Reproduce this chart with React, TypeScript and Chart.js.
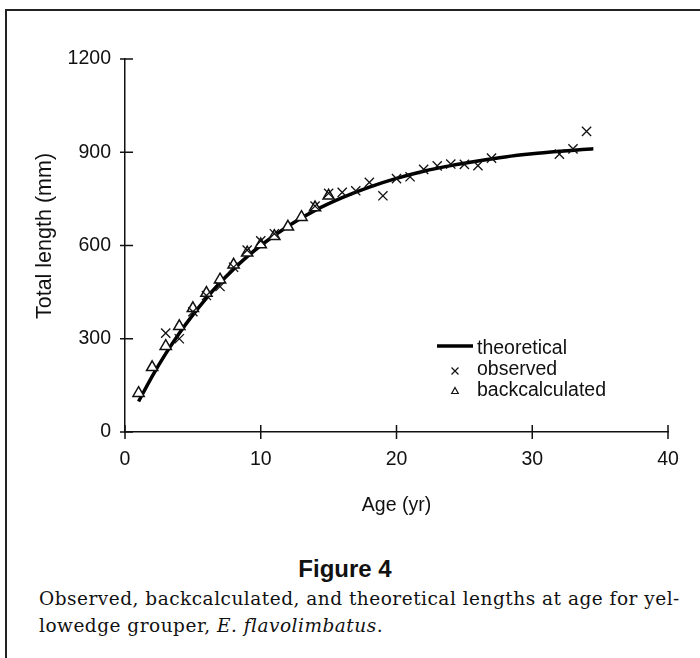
import React, { useEffect, useRef } from 'react';
import { Chart, registerables } from 'chart.js';

Chart.register(...registerables);

// ---- data ----
const observedAges = [3, 4, 5, 6, 7, 8, 9, 10, 11, 14, 15, 16, 17, 18, 19, 20, 21, 22, 23, 24, 25, 26, 27, 32, 33, 34];
const observedLengths = [318, 300, 387, 439, 468, 530, 585, 615, 638, 727, 768, 771, 776, 803, 760, 815, 821, 845, 856, 862, 861, 857, 881, 894, 911, 967];

const backAges = [1, 2, 3, 4, 5, 6, 7, 8, 9, 10, 11, 12, 13, 14, 15];
const backLengths = [125, 208, 276, 340, 398, 447, 490, 538, 577, 603, 630, 660, 691, 722, 760];

const theoAges = [1, 2, 3, 4, 5, 6, 7, 8, 9, 10, 12, 14, 16, 18, 20, 22, 24, 26, 28, 30, 32, 34, 34.5];
const theoLengths = [98, 179, 252, 318, 377, 431, 480, 524, 564, 600, 662, 713, 754, 788, 816, 839, 857, 872, 885, 895, 903, 910, 911];

const xTicks = [0, 10, 20, 30, 40];
const yTicks = [0, 300, 600, 900, 1200];

const xTitle = 'Age (yr)';
const yTitle = 'Total length (mm)';
const figureTitle = 'Figure 4';

const FONT = 'Arial, "Liberation Sans", Helvetica, sans-serif';
const INK = '#111';

const crossTicks = {
  id: 'crossTicks',
  afterDraw(chart: any) {
    const { ctx, chartArea, scales } = chart;
    ctx.save();
    ctx.strokeStyle = INK;
    ctx.lineWidth = 1.5;
    ctx.beginPath();
    for (const t of scales.x.ticks) {
      const px = scales.x.getPixelForValue(t.value);
      ctx.moveTo(px, chartArea.bottom - 7);
      ctx.lineTo(px, chartArea.bottom + 7);
    }
    for (const t of scales.y.ticks) {
      const py = scales.y.getPixelForValue(t.value);
      ctx.moveTo(chartArea.left - 5, py);
      ctx.lineTo(chartArea.left + 8, py);
    }
    ctx.stroke();
    ctx.restore();
  },
};

const yTitlePlugin = {
  id: 'yTitlePlugin',
  afterDraw(chart: any) {
    const { ctx } = chart;
    ctx.save();
    ctx.translate(45, 236);
    ctx.rotate(-Math.PI / 2);
    ctx.font = `21.5px ${FONT}`;
    ctx.fillStyle = INK;
    ctx.textAlign = 'center';
    ctx.textBaseline = 'middle';
    ctx.fillText(yTitle, 0, 0);
    ctx.restore();
  },
};

const legendPlugin = {
  id: 'legendPlugin',
  afterDraw(chart: any) {
    const { ctx } = chart;
    const ds = chart.data.datasets;
    const lx = 455;
    const tx = 477;
    ctx.save();
    ctx.font = `19.5px ${FONT}`;
    ctx.fillStyle = INK;
    ctx.textAlign = 'left';
    ctx.textBaseline = 'middle';
    // theoretical line
    const theo = ds[2];
    ctx.strokeStyle = theo.borderColor;
    ctx.lineWidth = 3.5;
    ctx.beginPath();
    ctx.moveTo(437, 346);
    ctx.lineTo(473, 346);
    ctx.stroke();
    ctx.fillText(theo.label, tx, 349);
    // observed cross
    ctx.strokeStyle = INK;
    ctx.lineWidth = 1.2;
    const cy = 371;
    const r = 3.5;
    ctx.beginPath();
    ctx.moveTo(lx - r, cy - r);
    ctx.lineTo(lx + r, cy + r);
    ctx.moveTo(lx - r, cy + r);
    ctx.lineTo(lx + r, cy - r);
    ctx.stroke();
    ctx.fillText(ds[0].label, tx, 370);
    // backcalculated triangle
    const ty = 391;
    ctx.beginPath();
    ctx.moveTo(lx, ty - 3.5);
    ctx.lineTo(lx + 3.3, ty + 2.5);
    ctx.lineTo(lx - 3.3, ty + 2.5);
    ctx.closePath();
    ctx.stroke();
    ctx.fillText(ds[1].label, tx, 391);
    ctx.restore();
  },
};

export default function App() {
  const ref = useRef<HTMLCanvasElement>(null);

  useEffect(() => {
    const canvas = ref.current;
    if (!canvas) return;
    Chart.defaults.font.family = FONT;
    Chart.defaults.color = INK;
    const chart = new Chart(canvas, {
      type: 'scatter',
      data: {
        datasets: [
          {
            label: 'observed',
            data: observedAges.map((a, i) => ({ x: a, y: observedLengths[i] })),
            pointStyle: 'crossRot',
            pointRadius: 6.5,
            pointBorderWidth: 1.3,
            borderColor: INK,
            backgroundColor: INK,
            order: 1,
          },
          {
            label: 'backcalculated',
            data: backAges.map((a, i) => ({ x: a, y: backLengths[i] })),
            pointStyle: 'triangle',
            pointRadius: 6.5,
            pointBorderWidth: 1.5,
            borderColor: INK,
            backgroundColor: '#fff',
            order: 2,
          },
          {
            label: 'theoretical',
            data: theoAges.map((a, i) => ({ x: a, y: theoLengths[i] })),
            showLine: true,
            borderColor: '#000',
            borderWidth: 3.5,
            pointRadius: 0,
            cubicInterpolationMode: 'monotone',
            order: 3,
          },
        ],
      } as any,
      options: {
        responsive: false,
        animation: false,
        devicePixelRatio: 1,
        events: [],
        layout: { padding: { top: 59, right: 32, left: 0, bottom: 0 } },
        plugins: {
          legend: { display: false },
          tooltip: { enabled: false },
        },
        scales: {
          x: {
            type: 'linear',
            min: 0,
            max: 40,
            afterBuildTicks: (s: any) => {
              s.ticks = xTicks.map((v) => ({ value: v }));
            },
            afterFit: (s: any) => {
              s.height = 88;
            },
            grid: { display: false, drawTicks: false },
            border: { display: true, color: INK, width: 1.5 },
            ticks: {
              padding: 16,
              font: { size: 19.5, family: FONT },
              color: INK,
              maxRotation: 0,
              callback: (v: any) => String(v),
            },
            title: {
              display: true,
              text: xTitle,
              font: { size: 19.5, family: FONT },
              color: INK,
              padding: { top: 0, bottom: 3 },
            },
          },
          y: {
            type: 'linear',
            min: 0,
            max: 1200,
            afterBuildTicks: (s: any) => {
              s.ticks = yTicks.map((v) => ({ value: v }));
            },
            afterFit: (s: any) => {
              s.width = 125;
            },
            grid: { display: false, drawTicks: false },
            border: { display: true, color: INK, width: 1.5 },
            ticks: {
              padding: 14,
              font: { size: 19.5, family: FONT },
              color: INK,
              callback: (v: any) => String(v),
            },
          },
        },
      } as any,
      plugins: [crossTicks, yTitlePlugin, legendPlugin],
    });
    return () => chart.destroy();
  }, []);

  return (
    <div>
      <div
        style={{
          position: 'absolute',
          left: 5,
          top: 9,
          width: 695,
          height: 649,
          boxSizing: 'border-box',
          borderLeft: '2px solid #222',
          borderTop: '2px solid #222',
        }}
      />
      <canvas
        ref={ref}
        width={700}
        height={520}
        style={{ position: 'absolute', left: 0, top: 0, width: 700, height: 520 }}
      />
      <div
        style={{
          position: 'absolute',
          left: 245,
          top: 555,
          width: 200,
          textAlign: 'center',
          fontFamily: FONT,
          fontWeight: 'bold',
          fontSize: 24,
          lineHeight: '28px',
          color: INK,
        }}
      >
        {figureTitle}
      </div>
      <div
        style={{
          position: 'absolute',
          left: 39,
          top: 585,
          width: 660,
          fontFamily: '"DejaVu Serif", serif',
          fontSize: 18.5,
          letterSpacing: '0.5px',
          lineHeight: '27px',
          color: INK,
          whiteSpace: 'nowrap',
        }}
      >
        Observed, backcalculated, and theoretical lengths at age for yel-
        <br />
        lowedge grouper, <i>E. flavolimbatus</i>.
      </div>
    </div>
  );
}
